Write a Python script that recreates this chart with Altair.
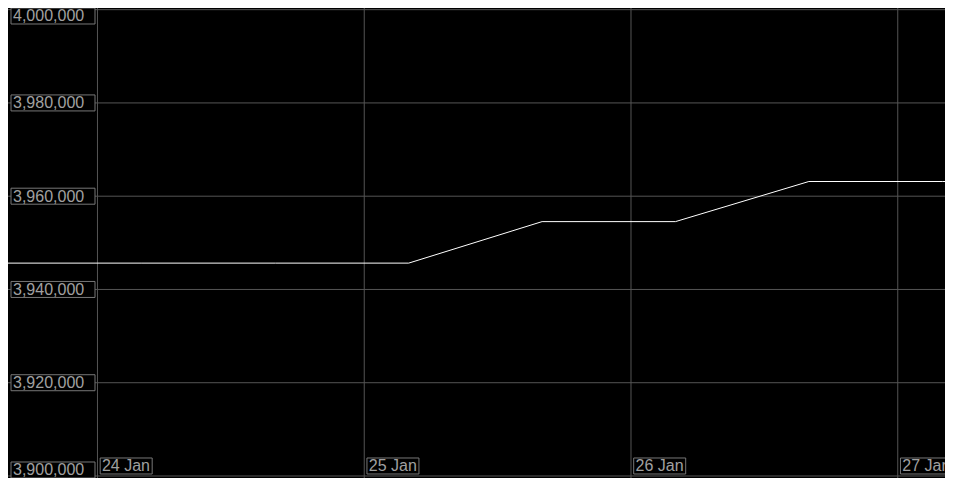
import altair as alt
import pandas as pd

# ---- data ----
series_time = [
    "2024-01-23T15:57:00Z", "2024-01-24T04:00:00Z", "2024-01-24T16:00:00Z",
    "2024-01-25T04:00:00Z", "2024-01-25T16:00:00Z", "2024-01-26T04:00:00Z",
    "2024-01-26T16:00:00Z", "2024-01-27T04:00:00Z", "2024-01-27T04:15:00Z",
]
series_value = [3945650, 3945650, 3945650, 3945650, 3954550, 3954550,
                3963150, 3963150, 3963150]

y_ticks = [3900000, 3920000, 3940000, 3960000, 3980000, 4000000]
x_ticks = ["2024-01-24T00:00:00Z", "2024-01-25T00:00:00Z",
           "2024-01-26T00:00:00Z", "2024-01-27T00:00:00Z"]
x_labels = ["24 Jan", "25 Jan", "26 Jan", "27 Jan"]

series_df = pd.DataFrame({"t": series_time, "v": series_value})
ytick_df = pd.DataFrame({"v": y_ticks})
xtick_df = pd.DataFrame({"d": x_ticks, "label": x_labels})

W, H = 937, 470
FONT = "Liberation Sans"
GRID = "#555555"
BOX = "#777777"
TXT = "#a0a0a0"

start_ms = int(pd.Timestamp("2024-01-23T15:57:00Z").value // 10**6)
end_ms = int(pd.Timestamp("2024-01-27T04:15:00Z").value // 10**6)
xscale = alt.Scale(type="utc", domain=[start_ms, end_ms])
yscale = alt.Scale(domain=[3899570, 4000358], nice=False, zero=False)

hgrid = alt.Chart(ytick_df).mark_rule(color=GRID, strokeWidth=1).encode(
    y=alt.Y("v:Q", scale=yscale, axis=None)
)
vgrid = alt.Chart(xtick_df).mark_rule(color=GRID, strokeWidth=1).encode(
    x=alt.X("d:T", scale=xscale, axis=None)
)
line = alt.Chart(series_df).mark_line(color="white", strokeWidth=1).encode(
    x=alt.X("t:T", scale=xscale, axis=None),
    y=alt.Y("v:Q", scale=yscale, axis=None),
)


def ylabel_layer(filter_expr, y_off, y2_off, dy):
    base = alt.Chart(ytick_df).transform_filter(filter_expr)
    box = base.mark_rect(fill="black", stroke=BOX, strokeWidth=1,
                         yOffset=y_off, y2Offset=y2_off).encode(
        x=alt.value(3), x2=alt.value(87),
        y=alt.Y("v:Q", scale=yscale, axis=None), y2=alt.Y2("v:Q"),
    )
    txt = base.mark_text(align="left", baseline="middle", dy=dy, font=FONT,
                         fontSize=16, color=TXT).encode(
        x=alt.value(5),
        y=alt.Y("v:Q", scale=yscale, axis=None),
        text=alt.Text("v:Q", format=","),
    )
    return [box, txt]


ylayers = []
ylayers += ylabel_layer("datum.v == 4000000", -1.67, 14.33, 6.5)
ylayers += ylabel_layer("datum.v > 3900000 && datum.v < 4000000", -8, 8, 0.5)
ylayers += ylabel_layer("datum.v == 3900000", -14, 2, -5.5)

xbox = alt.Chart(xtick_df).mark_rect(
    fill="black", stroke=BOX, strokeWidth=1,
    xOffset=2.7, x2Offset=54.7, yOffset=-18, y2Offset=-2,
).encode(
    x=alt.X("d:T", scale=xscale, axis=None), x2=alt.X2("d:T"),
    y=alt.datum(3900000), y2=alt.datum(3900000),
)
xtxt = alt.Chart(xtick_df).mark_text(
    align="left", baseline="middle", dx=4.5, dy=-9.5,
    font=FONT, fontSize=16, color=TXT,
).encode(
    x=alt.X("d:T", scale=xscale, axis=None),
    y=alt.datum(3900000),
    text="label:N",
)

chart = alt.layer(hgrid, vgrid, line, *ylayers, xbox, xtxt).properties(
    width=W, height=H, background="black", padding=0,
    autosize=alt.AutoSizeParams(type="none"),
).configure_view(stroke=None)

chart.save("out.html", embed_options={"renderer": "svg", "actions": False})
